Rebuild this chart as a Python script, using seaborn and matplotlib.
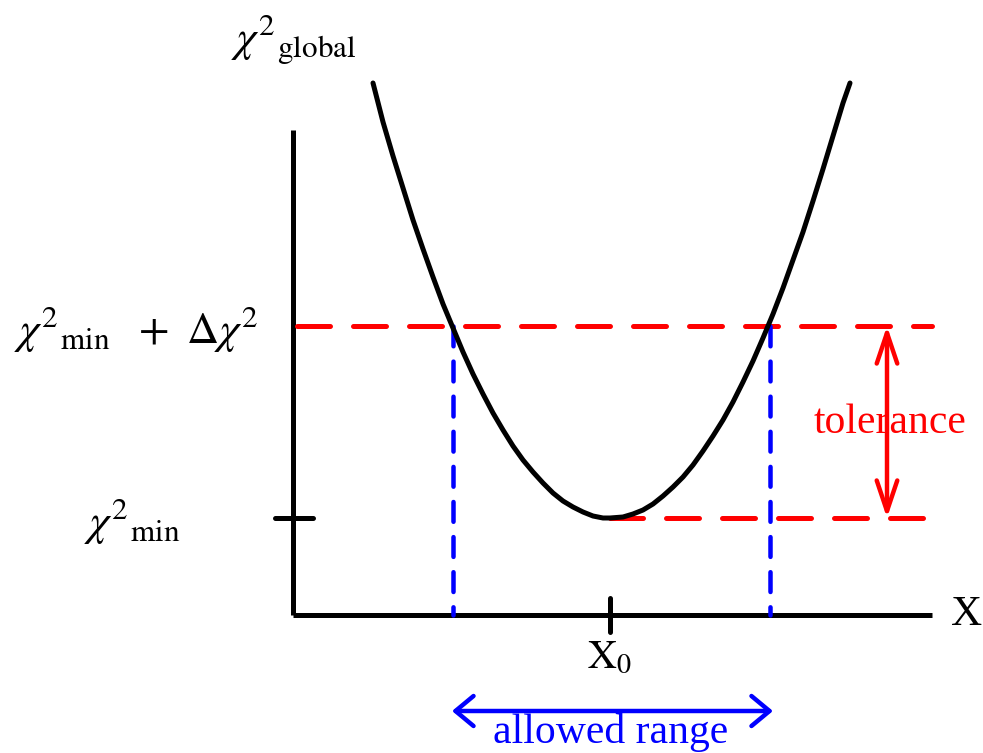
import matplotlib
matplotlib.use("Agg")
import matplotlib.pyplot as plt
import seaborn as sns

# chi-square curve, points (1 unit = 100 px, origin at axis corner)
curve_x = [0.80, 0.90, 1.00, 1.10, 1.20, 1.30, 1.40, 1.50, 1.60, 1.70, 1.80, 1.90,
           2.00, 2.10, 2.20, 2.30, 2.40, 2.50, 2.60, 2.70, 2.80, 2.90, 3.00, 3.10,
           3.17, 3.30, 3.40, 3.50, 3.60, 3.70, 3.80, 3.90, 4.00, 4.10, 4.20, 4.30,
           4.40, 4.50, 4.60, 4.70, 4.80, 4.90, 5.00, 5.10, 5.20, 5.30, 5.40, 5.50, 5.57]
curve_y = [5.32, 4.93, 4.59, 4.27, 3.95, 3.66, 3.38, 3.11, 2.87, 2.63, 2.41, 2.21,
           2.02, 1.85, 1.69, 1.55, 1.43, 1.32, 1.22, 1.14, 1.08, 1.03, 0.99, 0.97,
           0.97, 0.98, 1.01, 1.05, 1.11, 1.19, 1.28, 1.38, 1.50, 1.64, 1.79, 1.95,
           2.13, 2.33, 2.54, 2.77, 3.01, 3.27, 3.55, 3.83, 4.14, 4.46, 4.79, 5.12, 5.32]

x0 = 3.17            # position of the minimum
chi2_min = 0.97      # minimum value
chi2_tol = 2.89      # chi2_min + delta chi2
x_left, x_right = 1.60, 4.77   # allowed range limits
x_end, y_top = 6.39, 4.85      # axis extents

sns.set_theme(style="white")
plt.rcParams["mathtext.fontset"] = "stix"
plt.rcParams["font.family"] = ["Liberation Serif", "DejaVu Serif"]
plt.rcParams["text.color"] = "black"

fig = plt.figure(figsize=(9.83, 7.53), dpi=100)
ax = fig.add_axes([0, 0, 1, 1])
ax.set_xlim(-2.93, 6.90)
ax.set_ylim(-1.38, 6.15)
ax.axis("off")

lw = 3.6
# axes
ax.plot([0, 0], [0, y_top], color="black", lw=lw, solid_capstyle="butt")
ax.plot([0, x_end], [0, 0], color="black", lw=lw, solid_capstyle="butt")
ax.plot([-0.18, 0.20], [chi2_min, chi2_min], color="black", lw=lw, solid_capstyle="round")
ax.plot([x0, x0], [-0.17, 0.17], color="black", lw=lw, solid_capstyle="round")

# dashed guides
red_ls = (0, (6.6, 4.6))
blue_ls = (0, (4.4, 3.4))
ax.plot([0.04, x_end], [chi2_tol, chi2_tol], color="red", lw=lw, ls=red_ls,
        dash_capstyle="round")
ax.plot([x0, x_end], [chi2_min, chi2_min], color="red", lw=lw, ls=red_ls,
        dash_capstyle="round")
for xv in (x_left, x_right):
    ax.plot([xv, xv], [chi2_tol, 0], color="blue", lw=lw * 0.9, ls=blue_ls,
            dash_capstyle="round")

# curve
sns.lineplot(x=curve_x, y=curve_y, ax=ax, color="black", lw=lw, sort=False,
             solid_capstyle="round", solid_joinstyle="round")

# arrows
ax.annotate("", xy=(5.94, chi2_min), xytext=(5.94, chi2_tol),
            arrowprops=dict(arrowstyle="<->,head_length=1.1,head_width=0.37",
                            color="red", lw=3.2, mutation_scale=20,
                            shrinkA=0, shrinkB=0))
ax.annotate("", xy=(1.59, -0.96), xytext=(4.80, -0.96),
            arrowprops=dict(arrowstyle="<->,head_length=0.65,head_width=0.54",
                            color="blue", lw=3.2, mutation_scale=20,
                            shrinkA=0, shrinkB=0))

# labels
ax.text(5.97, 1.82, "tolerance", color="red", fontsize=30, ha="center", va="baseline")
ax.text(3.18, -1.28, "allowed range", color="blue", fontsize=30, ha="center",
        va="baseline")
ax.text(6.58, -0.10, "X", color="black", fontsize=31, ha="left", va="baseline")
ax.text(x0, -0.53, r"$\mathrm{X}_{0}$", color="black", fontsize=29, ha="center",
        va="baseline")
ax.text(-0.62, 5.75, r"$\chi^{2}{}_{\mathrm{global}}$", fontsize=32, ha="left",
        va="center")
ax.text(-2.79, 2.86, r"$\chi^{2}{}_{\mathrm{min}}\ \ +\ \Delta\chi^{2}$", fontsize=32,
        ha="left", va="center")
ax.text(-2.09, 0.94, r"$\chi^{2}{}_{\mathrm{min}}$", fontsize=32, ha="left", va="center")

fig.savefig("out.png", dpi=100)
